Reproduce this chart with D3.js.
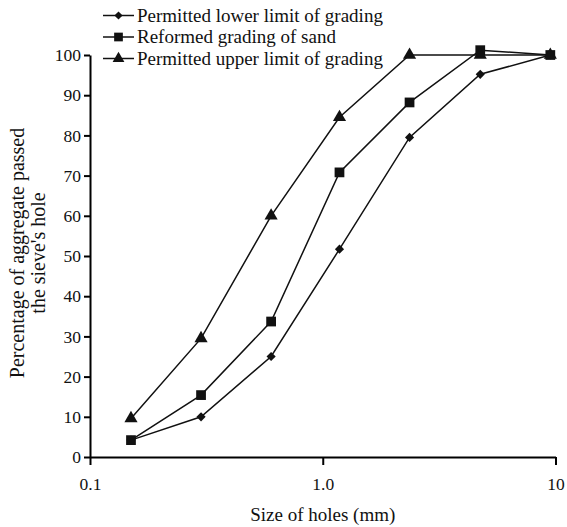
<!DOCTYPE html>
<html>
<head>
<meta charset="utf-8">
<script src="https://cdn.jsdelivr.net/npm/d3@7"></script>
<style>
  body { margin: 0; background: #fff; }
</style>
</head>
<body>
<svg id="chart" width="567" height="527"></svg>
<script>
// sieve sizes (mm)
var sizes = [0.15, 0.3, 0.6, 1.18, 2.36, 4.75, 9.5];

var lowerLimit = [4.2, 10, 25, 51.7, 79.5, 95.2, 100];
var reformed   = [4.2, 15.4, 33.7, 70.8, 88.2, 101.2, 100];
var upperLimit = [9.6, 29.5, 60, 84.5, 100, 100, 100];

var seriesNames = ["Permitted lower limit of grading", "Reformed grading of sand", "Permitted upper limit of grading"];
var seriesValues = [lowerLimit, reformed, upperLimit];
var seriesSymbols = [d3.symbolSquare, d3.symbolSquare, d3.symbolTriangle];
var symbolSizes = [42, 95, 75];
var symbolRotate = [45, 0, 0];

var xTicks = [0.1, 1, 10];
var xTickLabels = ["0.1", "1.0", "10"];
var yTicks = [0, 10, 20, 30, 40, 50, 60, 70, 80, 90, 100];

var FONT = "'Liberation Serif', 'Times New Roman', Times, serif";

var svg = d3.select("#chart");

var x = d3.scaleLog().domain([0.1, 10]).range([90, 555.5]);
var y = d3.scaleLinear().domain([0, 100]).range([457, 55]);

// axes
var xAxis = d3.axisBottom(x).tickValues(xTicks).tickFormat(function(d, i) { return xTickLabels[i]; })
  .tickSize(8).tickSizeOuter(0);
var gx = svg.append("g").attr("transform", "translate(0," + y(0) + ")").call(xAxis);
gx.attr("font-family", FONT);
gx.select(".domain").attr("stroke-width", 2);
gx.selectAll(".tick line").attr("stroke-width", 2);
gx.selectAll(".tick text").attr("font-size", 17.5).attr("fill", "#111").attr("dy", "1.25em");

var yAxis = d3.axisLeft(y).tickValues(yTicks).tickSize(6).tickSizeOuter(0);
var gy = svg.append("g").attr("transform", "translate(90,0)").call(yAxis);
gy.attr("font-family", FONT);
gy.select(".domain").attr("stroke-width", 2);
gy.selectAll(".tick line").attr("stroke-width", 2);
gy.selectAll(".tick text").attr("font-size", 17.5).attr("fill", "#111").attr("x", -9);

// axis titles
svg.append("text").attr("x", x(1)).attr("y", 521).attr("text-anchor", "middle")
  .attr("font-family", FONT).attr("font-size", 19).attr("fill", "#111").text("Size of holes (mm)");

var yt = svg.append("text").attr("transform", "translate(24,253) rotate(-90)")
  .attr("text-anchor", "middle").attr("font-family", FONT).attr("font-size", 20).attr("fill", "#111");
yt.append("tspan").attr("x", 0).attr("dy", 0).text("Percentage of aggregate passed");
yt.append("tspan").attr("x", 0).attr("dy", 21).text("the sieve's hole");

// lines and markers
var line = d3.line().x(function(d) { return x(d[0]); }).y(function(d) { return y(d[1]); });

seriesValues.forEach(function(vals, s) {
  var pts = sizes.map(function(sz, i) { return [sz, vals[i]]; });
  svg.append("path").datum(pts).attr("d", line)
    .attr("fill", "none").attr("stroke", "#111").attr("stroke-width", 1.5);
  svg.selectAll(".m" + s).data(pts).enter().append("path")
    .attr("class", "m" + s)
    .attr("transform", function(d) {
      return "translate(" + x(d[0]) + "," + y(d[1]) + ") rotate(" + symbolRotate[s] + ")";
    })
    .attr("d", d3.symbol().type(seriesSymbols[s]).size(symbolSizes[s]))
    .attr("fill", "#111");
});

// legend
var legend = svg.append("g").attr("transform", "translate(103,15.5)");
seriesNames.forEach(function(name, i) {
  var g = legend.append("g").attr("transform", "translate(0," + (i * 21.5) + ")");
  g.append("line").attr("x1", 0).attr("x2", 31).attr("y1", 0).attr("y2", 0)
    .attr("stroke", "#111").attr("stroke-width", 1.5);
  g.append("path").attr("transform", "translate(15.5,0) rotate(" + symbolRotate[i] + ")")
    .attr("d", d3.symbol().type(seriesSymbols[i]).size(symbolSizes[i] * 0.8))
    .attr("fill", "#111");
  g.append("text").attr("x", 34).attr("y", 0).attr("dy", "0.33em")
    .attr("font-family", FONT).attr("font-size", 19).attr("fill", "#111").text(name);
});
</script>
</body>
</html>
